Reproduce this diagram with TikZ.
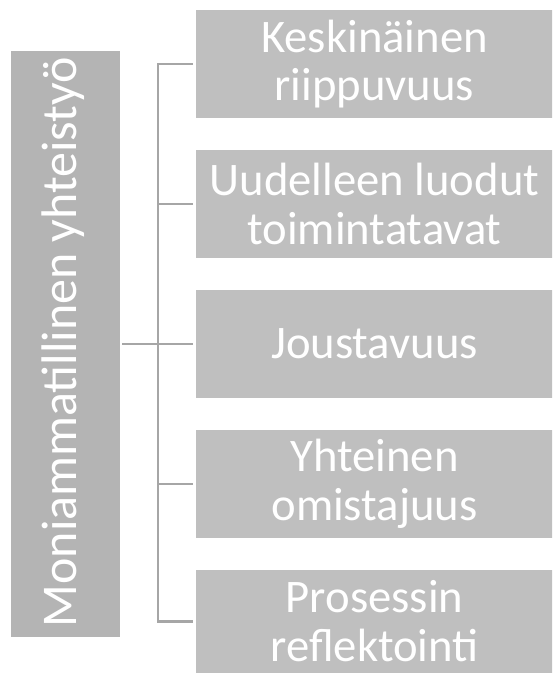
\documentclass[tikz,border=0pt]{standalone}
\usepackage{fontspec}
\setmainfont{Carlito}
\definecolor{leafgray}{RGB}{191,191,191}
\definecolor{rootgray}{RGB}{180,180,180}
\definecolor{linkgray}{RGB}{166,166,166}
\tikzset{
	boxtext/.style={text=white, inner sep=0pt, align=center, font=\fontsize{35}{36.6}\selectfont},
	leafbox/.style={boxtext, fill=leafgray, minimum width=267.75pt, minimum height=81.4pt},
	rootbox/.style={boxtext, fill=rootgray, minimum width=81.75pt, minimum height=439.5pt},
	trunk/.style={draw=linkgray, line width=2pt},
	branch/.style={draw=linkgray, line width=1.6pt}
}
\begin{document}
\begin{tikzpicture}[x=0.75pt,y=0.75pt,yscale=-1,xscale=1]
		\useasboundingbox (0,0) rectangle (552,673);
		\clip (0,0) rectangle (552,673);
		\node [rootbox] (root) at (65.5,344) {};
		\node [boxtext, font=\fontsize{37.5}{40}\selectfont, rotate=90] (roottext) at (63,342) {Moniammatillinen yhteistyö};
		\node [leafbox] (leaf1) at (374.5,64) {Keskinäinen\\riippuvuus};
		\node [leafbox] (leaf2) at (374.5,204) {Uudelleen luodut\\toimintatavat};
		\node [leafbox] (leaf3) at (374.5,344) {Joustavuus};
		\node [leafbox] (leaf4) at (374.5,484) {Yhteinen\\omistajuus};
		\node [leafbox, minimum height=77.6pt] (leaf5) at (374.5,621.5) {Prosessin\\reflektointi};
		\coordinate (bus) at (158,344);
		\draw [trunk, shorten <=1.5pt, shorten >=2.25pt] (root) -- (leaf3);
		\draw [branch, line cap=rect] (bus |- leaf1) -- (bus |- leaf5);
		\foreach \i in {1,...,5}
			\draw [branch, shorten >=2.25pt] (bus |- leaf\i) -- (leaf\i);
\end{tikzpicture}
\end{document}
